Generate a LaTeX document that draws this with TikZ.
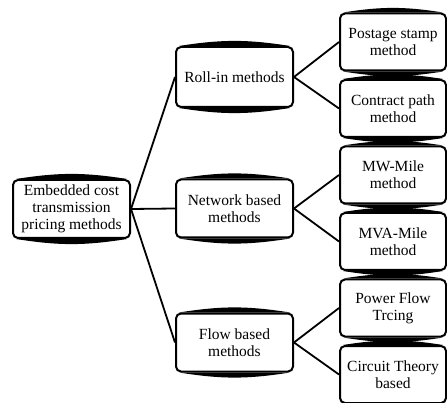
\documentclass[tikz,border=0pt]{standalone}
\usepackage{fontspec}
\setmainfont{Liberation Serif}

\begin{document}
\begin{tikzpicture}[x=1pt, y=-1pt,
  box/.style={draw, line width=2pt, rounded corners=5pt, minimum width=117pt,
    minimum height=58pt, align=center, inner sep=2pt,
    font=\fontsize{15.5}{17}\selectfont},
  leaf/.style={box, minimum width=106pt, minimum height=57pt},
  link/.style={line width=1.8pt}]

  \useasboundingbox (0,0) rectangle (447,403);

  % Root box
  \node[box] (root) at (71.5,209) {Embedded cost\\transmission\\pricing methods};

  % Middle layer
  \node[box, minimum height=60pt] (roll) at (234.5,77) {Roll-in methods};
  \node[box] (net) at (234.5,208.5) {Network based\\methods};
  \node[box] (flow) at (234.5,342.5) {Flow based\\methods};

  % Right layer
  \node[leaf] (post) at (393,42) {Postage stamp\\method};
  \node[leaf] (contr) at (393,108.5) {Contract path\\method};
  \node[leaf] (mw) at (393,175) {MW-Mile\\method};
  \node[leaf] (mva) at (393,241.5) {MVA-Mile\\method};
  \node[leaf] (pft) at (393,308) {Power Flow\\Trcing};
  \node[leaf] (circ) at (393,374.5) {Circuit Theory\\based};

  % Thick curved top and bottom edges of the boxes
  \foreach \n in {root,roll,net,flow,post,contr,mw,mva,pft,circ} {
    \fill ([xshift=4pt]\n.north west) to[bend left=9] ([xshift=-4pt]\n.north east) -- cycle;
    \fill ([xshift=4pt]\n.south west) to[bend right=9] ([xshift=-4pt]\n.south east) -- cycle;
  }

  % Links from the root
  \draw[link] (root.east) -- (roll.west);
  \draw[link] (root.east) -- (net.west);
  \draw[link] (root.east) -- (flow.west);

  % Links to the single methods
  \draw[link] (roll.east) -- (post.west);
  \draw[link] (roll.east) -- (contr.west);
  \draw[link] (net.east) -- (mw.west);
  \draw[link] (net.east) -- (mva.west);
  \draw[link] (flow.east) -- (pft.west);
  \draw[link] (flow.east) -- (circ.west);

\end{tikzpicture}
\end{document}
